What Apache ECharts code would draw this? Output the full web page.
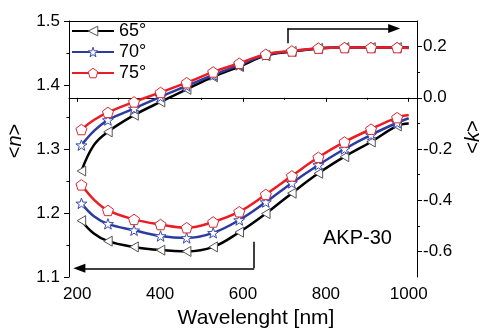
<!DOCTYPE html>
<html><head><meta charset="utf-8">
<script src="https://cdn.jsdelivr.net/npm/echarts@6/dist/echarts.min.js"></script>
<style>html,body{margin:0;padding:0;background:#fff}#c{width:481px;height:328px}</style>
</head><body><div id="c"></div>
<script>
// ---- data ----
const wavelengths = [210, 240, 274, 337, 401, 464, 528, 591, 655, 718, 782, 845, 909, 972, 1000];
const markerFlags = [1, 0, 1, 1, 1, 1, 1, 1, 1, 1, 1, 1, 1, 1, 0];
const seriesNames = ['65°', '70°', '75°'];
// <n> (left axis)
const n65 = [1.188, 1.168, 1.156, 1.147, 1.142, 1.140, 1.147, 1.170, 1.199, 1.231, 1.262, 1.288, 1.311, 1.336, 1.340];
const n70 = [1.215, 1.195, 1.183, 1.173, 1.164, 1.161, 1.169, 1.189, 1.217, 1.247, 1.275, 1.300, 1.322, 1.341, 1.348];
const n75 = [1.244, 1.221, 1.204, 1.190, 1.182, 1.177, 1.186, 1.202, 1.229, 1.258, 1.287, 1.311, 1.331, 1.349, 1.353];
// <k> (right axis)
const k65 = [-0.286, -0.185, -0.133, -0.068, -0.016, 0.033, 0.082, 0.122, 0.165, 0.181, 0.193, 0.196, 0.196, 0.196, 0.196];
const k70 = [-0.185, -0.130, -0.087, -0.042, 0.004, 0.046, 0.089, 0.128, 0.167, 0.182, 0.193, 0.196, 0.196, 0.196, 0.196];
const k75 = [-0.124, -0.087, -0.057, -0.016, 0.021, 0.059, 0.101, 0.135, 0.170, 0.183, 0.194, 0.196, 0.196, 0.196, 0.195];
// tick values
const xMajorTicks = [200, 400, 600, 800, 1000];
const xMinorTicks = [300, 500, 700, 900];
const nMajorTicks = [1.1, 1.2, 1.3, 1.4, 1.5];
const nMinorTicks = [1.15, 1.25, 1.35, 1.45];
const kMajorTicks = [-0.6, -0.4, -0.2, 0, 0.2];
const kMinorTicks = [-0.5, -0.3, -0.1, 0.1];
// annotation arrows (data units)
const kArrow = {x: 707, y0: 0.213, y1: 0.271, xEnd: 965};
const nArrow = {x: 627, y0: 1.155, y1: 1.1136, xEnd: 205};

// ---- styling ----
const FONT = 'Liberation Sans, Arial, sans-serif';
const lineColors = ['#000000', '#2c3c9e', '#ec1c24'];
const markerBorders = ['#555555', '#3a4ab0', '#d8282e'];
const symbols = [
  'path://M0,1 L1.7,0 L1.7,2 Z',
  'path://M0,-1 L0.235,-0.324 L0.951,-0.309 L0.38,0.124 L0.588,0.809 L0,0.4 L-0.588,0.809 L-0.38,0.124 L-0.951,-0.309 L-0.235,-0.324 Z',
  'path://M0,-1 L0.951,-0.309 L0.588,0.809 L-0.588,0.809 L-0.951,-0.309 Z'
];
const symbolSizes = [10, 11, 11];

function buildData(vals) {
  return wavelengths.map((w, i) => markerFlags[i] ? [w, vals[i]] : {value: [w, vals[i]], symbol: 'none'});
}
function makeSeries(idx, vals, yAxisIndex, extra) {
  return Object.assign({
    type: 'line', name: seriesNames[idx], xAxisIndex: 0, yAxisIndex: yAxisIndex,
    data: buildData(vals), smooth: 0.4, showAllSymbol: true,
    symbol: symbols[idx], symbolSize: symbolSizes[idx], symbolKeepAspect: true,
    lineStyle: {color: lineColors[idx], width: 2.5},
    itemStyle: {color: '#ffffff', borderColor: markerBorders[idx], borderWidth: 1},
    emphasis: {disabled: true}, silent: true, z: 3 + idx
  }, extra || {});
}
const arrowLine = {color: '#000', width: 1.5, type: 'solid'};
const kSeriesExtra = {
  markLine: {
    silent: true, symbol: ['none', 'none'], animation: false, label: {show: false},
    data: [
      [{yAxis: 0, lineStyle: {color: '#b4b4b4', width: 1, type: 'dotted'}}, {yAxis: 0}],
      [{coord: [kArrow.x, kArrow.y0], lineStyle: arrowLine}, {coord: [kArrow.x, kArrow.y1]}],
      [{coord: [kArrow.x, kArrow.y1], lineStyle: arrowLine}, {coord: [kArrow.xEnd, kArrow.y1], symbol: 'triangle', symbolSize: [9, 12]}]
    ]
  }
};
const nSeriesExtra = {
  markLine: {
    silent: true, symbol: ['none', 'none'], animation: false, label: {show: false},
    data: [
      [{coord: [nArrow.x, nArrow.y0], lineStyle: arrowLine}, {coord: [nArrow.x, nArrow.y1]}],
      [{coord: [nArrow.x, nArrow.y1], lineStyle: arrowLine}, {coord: [nArrow.xEnd, nArrow.y1], symbol: 'triangle', symbolSize: [9, 12]}]
    ]
  }
};

const axisLineStyle = {show: true, lineStyle: {color: '#000', width: 1}};
const labelStyle = {color: '#000', fontSize: 17, fontFamily: FONT};
const fmt1 = v => Number(v).toFixed(1);
const fmt0 = v => String(Math.round(v));
const XR = {min: 180, max: 1020};
const NR = {min: 1.1, max: 1.5};
const KR = {min: -0.7, max: 0.3};

const option = {
  animation: false,
  backgroundColor: '#fff',
  grid: {left: 69, right: 64, top: 21, bottom: 51, containLabel: false, outerBoundsMode: 'none'},
  legend: {
    orient: 'vertical', left: 71, top: 22, padding: 0, itemWidth: 42, itemHeight: 12, itemGap: 3,
    data: seriesNames, selectedMode: false,
    itemStyle: {color: '#ffffff', borderColor: 'inherit', borderWidth: 1},
    textStyle: {color: '#000', fontSize: 18, fontFamily: FONT}
  },
  xAxis: [
    Object.assign({type: 'value', position: 'bottom', axisLine: axisLineStyle,
      axisTick: {show: true, length: 4, customValues: xMajorTicks, lineStyle: {color: '#000'}},
      axisLabel: {show: true, customValues: xMajorTicks, margin: 9, formatter: fmt0, ...labelStyle},
      splitLine: {show: false},
      name: 'Wavelenght [nm]', nameLocation: 'middle', nameGap: 30,
      nameTextStyle: {color: '#000', fontSize: 21, fontFamily: FONT, padding: [0, 0, 0, 26]}}, XR),
    Object.assign({type: 'value', position: 'bottom', axisLine: {show: false},
      axisTick: {show: true, length: 2, customValues: xMinorTicks, lineStyle: {color: '#000'}},
      axisLabel: {show: false}, splitLine: {show: false}}, XR),
    Object.assign({type: 'value', position: 'top', axisLine: axisLineStyle,
      axisTick: {show: false}, axisLabel: {show: false}, splitLine: {show: false}}, XR)
  ],
  yAxis: [
    Object.assign({type: 'value', position: 'left', axisLine: axisLineStyle,
      axisTick: {show: true, length: 5, customValues: nMajorTicks, lineStyle: {color: '#000'}},
      axisLabel: {show: true, customValues: nMajorTicks, margin: 9, formatter: fmt1, ...labelStyle},
      splitLine: {show: false},
      name: '<{i|n}>', nameLocation: 'middle', nameGap: 44,
      nameTextStyle: {color: '#000', fontSize: 20, fontFamily: FONT, padding: [0, 0, 0, 16],
        rich: {i: {fontStyle: 'italic', fontSize: 20, fontFamily: FONT, color: '#000'}}}}, NR),
    Object.assign({type: 'value', position: 'right', axisLine: axisLineStyle,
      axisTick: {show: true, length: 5, customValues: kMajorTicks, lineStyle: {color: '#000'}},
      axisLabel: {show: true, customValues: kMajorTicks, margin: 6, formatter: fmt1, ...labelStyle},
      splitLine: {show: false},
      name: '<{i|k}>', nameLocation: 'middle', nameGap: 46,
      nameTextStyle: {color: '#000', fontSize: 20, fontFamily: FONT, padding: [0, 0, 0, 24],
        rich: {i: {fontStyle: 'italic', fontSize: 20, fontFamily: FONT, color: '#000'}}}}, KR),
    Object.assign({type: 'value', position: 'left', axisLine: {show: false},
      axisTick: {show: true, length: 2.5, customValues: nMinorTicks, lineStyle: {color: '#000'}},
      axisLabel: {show: false}, splitLine: {show: false}}, NR),
    Object.assign({type: 'value', position: 'right', axisLine: {show: false},
      axisTick: {show: true, length: 3, customValues: kMinorTicks, lineStyle: {color: '#000'}},
      axisLabel: {show: false}, splitLine: {show: false}}, KR)
  ],
  graphic: [
    {type: 'text', left: 323, top: 228, silent: true,
     style: {text: 'AKP-30', fontSize: 20, fontFamily: FONT, fill: '#000'}}
  ],
  series: [
    makeSeries(0, k65, 1, kSeriesExtra),
    makeSeries(1, k70, 1),
    makeSeries(2, k75, 1),
    makeSeries(0, n65, 0, nSeriesExtra),
    makeSeries(1, n70, 0),
    makeSeries(2, n75, 0)
  ]
};
const chart = echarts.init(document.getElementById('c'), null, {renderer: 'canvas'});
chart.setOption(option);
</script>
</body></html>
